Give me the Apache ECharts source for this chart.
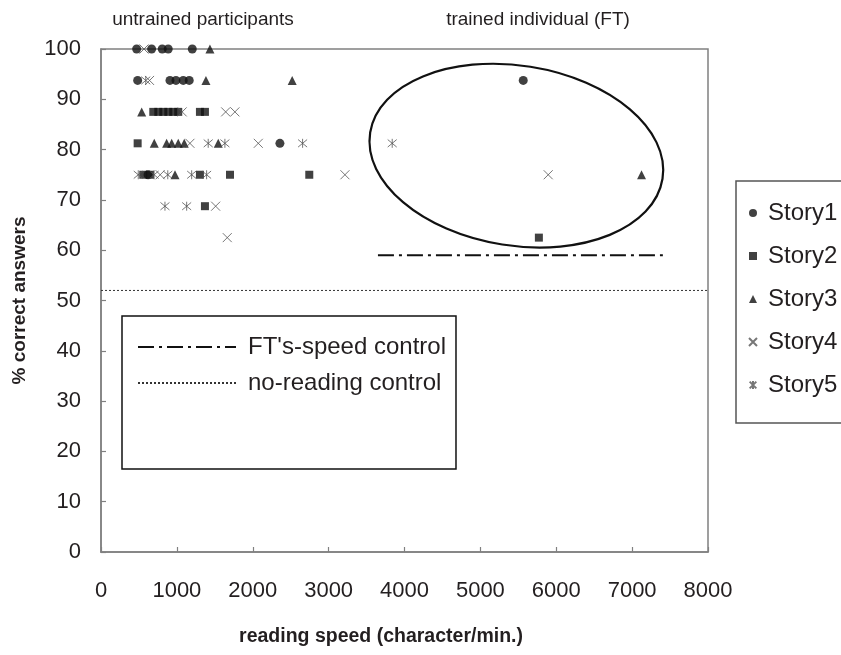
<!DOCTYPE html>
<html>
<head>
<meta charset="utf-8">
<script src="https://cdn.jsdelivr.net/npm/echarts@6/dist/echarts.min.js"></script>
<style>
  html, body { margin: 0; padding: 0; background: #fff; }
  #chart { width: 841px; height: 655px; }
</style>
</head>
<body>
<div id="chart"></div>
<script>
// reading speed (char/min), % correct
const story1 = [[470,100],[667,100],[807,100],[886,100],[1203,100],
  [483,93.75],[909,93.75],[988,93.75],[1084,93.75],[1163,93.75],
  [2358,81.25],[620,75],[5565,93.75]];
const story2 = [[689,87.5],[755,87.5],[821,87.5],[887,87.5],[952,87.5],[1018,87.5],[1304,87.5],[1370,87.5],
  [483,81.25],[557,75],[645,75],[1304,75],[1700,75],[2745,75],[1370,68.75],[5771,62.5]];
const story3 = [[1436,100],[1383,93.75],[2520,93.75],[536,87.5],
  [702,81.25],[865,81.25],[932,81.25],[1018,81.25],[1097,81.25],[1545,81.25],
  [975,75],[7124,75]];
const story4 = [[567,100],[640,93.75],[1070,87.5],[1643,87.5],[1765,87.5],
  [1172,81.25],[2073,81.25],[780,75],[3215,75],[5894,75],[1511,68.75],[1664,62.5]];
const story5 = [[590,93.75],[1413,81.25],[1633,81.25],[2657,81.25],[3838,81.25],
  [491,75],[700,75],[880,75],[1195,75],[1392,75],[843,68.75],[1129,68.75]];

const ftSpeedControl = [[3650,59],[7405,59]];
const noReadingControl = [[0,52],[8000,52]];

const storyNames = ['Story1','Story2','Story3','Story4','Story5'];
const lineNames = ["FT's-speed control", 'no-reading control'];
const groupLabels = ['untrained participants', 'trained individual (FT)'];
const xTitle = 'reading speed (character/min.)';

// ellipse round the trained individual's points (data coords of centre)
const ftCentre = [5474, 78.8];

const FONT = "'Liberation Sans', Arial, sans-serif";
const TEXT = '#231f20';
const AXIS = '#808080';

const crossPath = 'path://M0,0L10,10M10,0L0,10';
const starPath = 'path://M0,0L10,10M10,0L0,10M5,-1L5,11';

const filled = (name, data, symbol, size) => ({
    name, type: 'scatter', data, symbol, symbolSize: size,
    itemStyle: { color: '#111' }, z: 5
})
const stroked = (name, data, symbol, size) => ({
    name, type: 'scatter', data, symbol, symbolSize: size,
    itemStyle: { color: 'transparent', borderColor: '#555', borderWidth: 1 }, z: 5
})

const chart = echarts.init(document.getElementById('chart'));
chart.setOption({
    animation: false,
    textStyle: { fontFamily: FONT, color: TEXT },
    grid: {
        left: 101, top: 49, right: 133, bottom: 103,
        show: true, borderColor: AXIS, borderWidth: 1.5
    },
    xAxis: {
        type: 'value', min: 0, max: 8000, interval: 1000,
        axisLine: { show: true, lineStyle: { color: AXIS, width: 1.5 } },
        axisTick: { show: true, inside: true, length: 5, lineStyle: { color: AXIS, width: 1.2 } },
        axisLabel: { fontSize: 22, color: TEXT, margin: 28, fontFamily: FONT, formatter: v => String(v) },
        splitLine: { show: false }
    },
    yAxis: {
        type: 'value', min: 0, max: 100, interval: 10,
        name: '% correct answers',
        nameLocation: 'middle', nameGap: 72, nameRotate: 90,
        nameTextStyle: { fontSize: 19, fontWeight: 'bold', color: TEXT, fontFamily: FONT },
        axisLine: { show: true, lineStyle: { color: AXIS, width: 1.5 } },
        axisTick: { show: true, inside: true, length: 5, lineStyle: { color: AXIS, width: 1.2 } },
        axisLabel: { fontSize: 22, color: TEXT, margin: 20, fontFamily: FONT },
        splitLine: { show: false }
    },
    legend: [
        {
            data: storyNames, orient: 'vertical',
            left: 736, top: 181,
            padding: [20, 60, 26, 12],
            itemWidth: 8, itemHeight: 8, itemGap: 19,
            borderColor: '#555', borderWidth: 1.5,
            textStyle: { fontSize: 24, color: TEXT, fontFamily: FONT, padding: [0, 0, 0, 6] },
            selectedMode: false
        },
        {
            data: lineNames, orient: 'vertical',
            left: 122, top: 316,
            padding: [19, 10, 74, 15],
            itemWidth: 98, itemHeight: 14, itemGap: 12,
            borderColor: '#111', borderWidth: 1.5,
            itemStyle: { color: 'transparent', borderColor: 'transparent', borderWidth: 0 },
            textStyle: { fontSize: 24, color: TEXT, fontFamily: FONT, padding: [0, 0, 0, 7] },
            selectedMode: false
        }
    ],
    series: [
        filled('Story1', story1, 'circle', 9),
        filled('Story2', story2, 'rect', 8),
        filled('Story3', story3, 'triangle', 9),
        stroked('Story4', story4, crossPath, 9),
        stroked('Story5', story5, starPath, 9),
        {
            name: lineNames[0], type: 'line', data: ftSpeedControl,
            symbol: 'none', silent: true,
            itemStyle: { color: '#111' },
            lineStyle: { color: '#111', width: 2, type: [16, 5, 3, 5] }, z: 3
        },
        {
            name: lineNames[1], type: 'line', data: noReadingControl,
            symbol: 'none', silent: true,
            itemStyle: { color: '#333' },
            lineStyle: { color: '#333', width: 1, type: [2, 2] }, z: 3
        }
    ]
});

// annotations: group labels, x title and the ellipse
const c = chart.convertToPixel({ gridIndex: 0 }, ftCentre);
chart.setOption({
    graphic: [
        {
            type: 'text', x: 203, y: 20,
            style: { text: groupLabels[0], font: '19px ' + FONT, fill: TEXT, textAlign: 'center', textVerticalAlign: 'middle' }
        },
        {
            type: 'text', x: 538, y: 20,
            style: { text: groupLabels[1], font: '19px ' + FONT, fill: TEXT, textAlign: 'center', textVerticalAlign: 'middle' }
        },
        {
            type: 'text', x: 381, y: 637,
            style: { text: xTitle, font: 'bold 19.5px ' + FONT, fill: TEXT, textAlign: 'center', textVerticalAlign: 'middle' }
        },
        {
            type: 'ellipse', x: c[0], y: c[1], rotation: -9 * Math.PI / 180,
            shape: { cx: 0, cy: 0, rx: 148, ry: 90 },
            style: { fill: 'none', stroke: '#111', lineWidth: 2.2 },
            z: 10
        }
    ]
});
</script>
</body>
</html>
